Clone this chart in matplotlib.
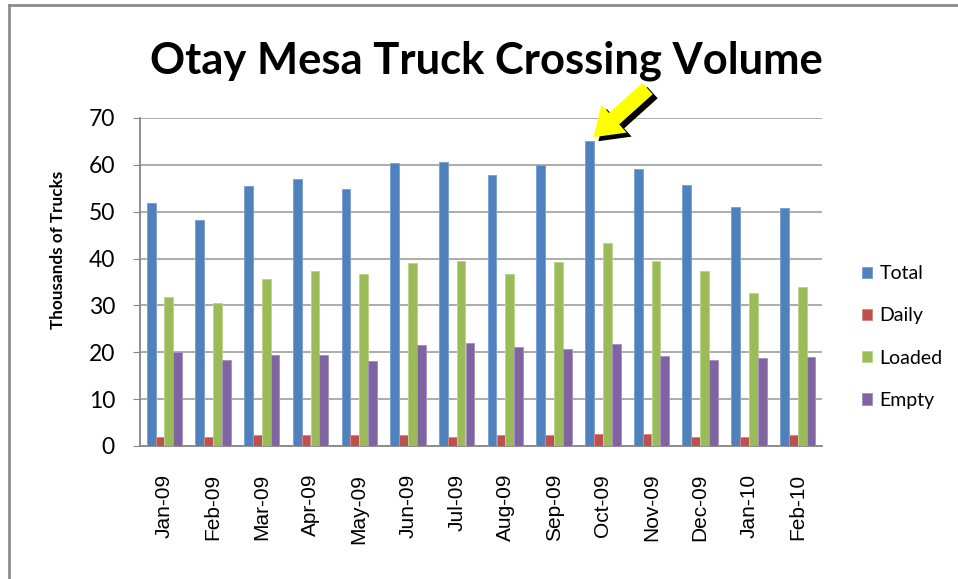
import numpy as np
import matplotlib
matplotlib.use("Agg")
import matplotlib.pyplot as plt
from matplotlib.patches import Patch
from matplotlib.lines import Line2D
from matplotlib.transforms import offset_copy

plt.rcParams['font.family'] = ['Lato', 'DejaVu Sans']

# data (thousands of trucks)
months = ['Jan-09', 'Feb-09', 'Mar-09', 'Apr-09', 'May-09', 'Jun-09', 'Jul-09',
          'Aug-09', 'Sep-09', 'Oct-09', 'Nov-09', 'Dec-09', 'Jan-10', 'Feb-10']
total = [51.9, 48.3, 55.4, 56.9, 54.9, 60.4, 60.6, 57.9, 59.9, 65.1, 59.1, 55.7, 51.1, 50.8]
daily = [2.0, 2.0, 2.3, 2.3, 2.3, 2.3, 2.0, 2.3, 2.3, 2.5, 2.5, 2.0, 2.0, 2.3]
loaded = [31.8, 30.5, 35.7, 37.3, 36.8, 39.0, 39.5, 36.8, 39.3, 43.4, 39.5, 37.4, 32.7, 34.0]
empty = [20.0, 18.4, 19.5, 19.5, 18.1, 21.5, 22.0, 21.2, 20.6, 21.8, 19.3, 18.4, 18.7, 19.0]

series = [('Total', total, '#4F81BD', '#7DA3D3'),
          ('Daily', daily, '#C0504D', '#D98683'),
          ('Loaded', loaded, '#9BBB59', '#BDD48E'),
          ('Empty', empty, '#8064A2', '#A894C2')]

fig = plt.figure(figsize=(9.58, 5.79), dpi=100)
ax = fig.add_axes([140/958, 133/579, 682/958, 328/579])

x = np.arange(len(months))
w = 1 / 5.5
for k, (name, vals, col, edge) in enumerate(series):
    ax.bar(x + (k - 1.5) * w, vals, w, color=col, edgecolor=edge, linewidth=0.7, label=name, zorder=3)

ax.set_xlim(-0.5, len(months) - 0.5)
ax.set_ylim(0, 70)
ax.set_yticks(range(0, 71, 10))
ax.set_xticks(x)
ax.set_xticklabels(months, rotation=90, fontsize=15, family=['Liberation Sans', 'DejaVu Sans'])
ax.tick_params(axis='x', length=0, pad=20)
ax.tick_params(axis='y', length=5, color='#868686', labelsize=16.5, pad=13)
ax.grid(axis='y', color='#a6a6a6', linewidth=1.3, zorder=0)
for s in ['top', 'right']:
    ax.spines[s].set_visible(False)
for s in ['left', 'bottom']:
    ax.spines[s].set_color('#868686')
    ax.spines[s].set_linewidth(1.3)
ax.set_ylabel('Thousands of Trucks', fontsize=12.3, fontweight='bold')
ax.yaxis.set_label_coords(-0.1085, 0.598)

fig.text(0.508, 0.895, 'Otay Mesa Truck Crossing Volume', fontsize=31.3, fontweight='bold',
         ha='center', va='center')

# arrow pointing at the October peak
tip = (9 - 1.5 * w + 0.08, total[9] + 0.8)
style = 'simple,head_length=1.0,head_width=1.35,tail_width=0.55'
shadow = offset_copy(ax.transData, fig=fig, x=5, y=-4, units='dots')
ax.annotate('', xy=tip, xycoords=shadow, xytext=(39, 35), textcoords='offset points',
            arrowprops=dict(arrowstyle=style, fc='black', ec='none', mutation_scale=20,
                            shrinkA=0, shrinkB=0), annotation_clip=False)
ax.annotate('', xy=tip, xycoords='data', xytext=(39, 35), textcoords='offset points',
            arrowprops=dict(arrowstyle=style, fc='#FFFF00', ec='none', mutation_scale=20,
                            shrinkA=0, shrinkB=0), annotation_clip=False)

handles = [Patch(facecolor=c, edgecolor=e, linewidth=0.7) for _, _, c, e in series]
fig.legend(handles, [s[0] for s in series], loc='center left',
           bbox_to_anchor=(844/958, 1 - 337/579), frameon=False, fontsize=14,
           handlelength=0.52, handleheight=0.52, handletextpad=0.4, labelspacing=1.3)

# outer chart border (top and left edges visible)
fig.add_artist(Line2D([9/958, 1], [1 - 5/579, 1 - 5/579], color='#8c8c8c', linewidth=2))
fig.add_artist(Line2D([9/958, 9/958], [0, 1 - 5/579], color='#8c8c8c', linewidth=2))

fig.savefig('out.png', dpi=100)
